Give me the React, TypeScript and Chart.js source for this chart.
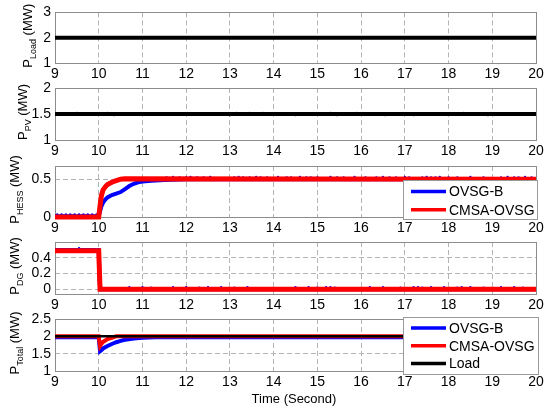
import React, { useEffect, useRef } from "react";
import { Chart, registerables } from "chart.js";

Chart.register(...registerables);

const FONT = "'Liberation Sans', Arial, Helvetica, sans-serif";

// ---- shared axis data ----
const xTicks = [9, 10, 11, 12, 13, 14, 15, 16, 17, 18, 19, 20];
const xLabel = "Time (Second)";

// ---- Panel 1: P_Load ----
const loadTime = [9, 20];
const loadPower = [2, 2];
const loadTicks = [1, 2, 3];

// ---- Panel 2: P_PV ----
const pvTime = [9, 20];
const pvPower = [1.5, 1.5];
const pvDotTime = [9.5, 10.2, 10.35, 13.0, 13.15, 13.45, 13.75, 14.5, 15.3, 15.45, 15.9, 16.55, 17.2, 18.35, 18.9, 19.95];
const pvDotPower = [1.515, 1.515, 1.485, 1.485, 1.515, 1.515, 1.515, 1.485, 1.515, 1.485, 1.515, 1.485, 1.485, 1.515, 1.485, 1.5];
const pvTicks = [1, 1.5, 2];

// ---- Panel 3: P_HESS ----
const hessBTime = [9, 9.99, 10.02, 10.06, 10.1, 10.15, 10.2, 10.3, 10.4, 10.5, 10.6, 10.7, 10.8, 10.9, 11.0, 11.2, 11.5, 12, 20];
const hessBPower = [0.01, 0.01, 0.05, 0.14, 0.19, 0.23, 0.26, 0.29, 0.31, 0.33, 0.37, 0.41, 0.44, 0.46, 0.47, 0.48, 0.49, 0.5, 0.5];
const hessBDotTime = [9.05, 9.15, 9.25, 9.35, 9.45, 9.55, 9.65, 9.75, 9.85, 9.95, 11.55, 11.7, 11.85, 12.0, 12.1, 12.25, 12.4, 12.55, 13.1, 13.2, 13.3, 13.45, 13.6, 13.7, 13.85, 14.1, 14.3, 14.4, 14.6, 14.75, 14.85, 15.0, 15.3, 15.45, 15.6, 15.85, 16.1, 16.35, 16.5, 16.65, 16.8, 17.0, 17.1, 17.4, 17.5, 17.6, 17.7, 17.8, 18.0, 18.2, 18.5, 18.8, 19.2, 19.35, 19.5, 19.6, 19.75, 19.9];
const hessBDotPower = [0.035, 0.035, 0.035, 0.035, 0.035, 0.035, 0.035, 0.035, 0.035, 0.035, 0.525, 0.53, 0.525, 0.525, 0.53, 0.525, 0.525, 0.53, 0.525, 0.53, 0.525, 0.525, 0.53, 0.525, 0.525, 0.53, 0.525, 0.525, 0.53, 0.525, 0.525, 0.525, 0.53, 0.525, 0.525, 0.53, 0.525, 0.525, 0.53, 0.525, 0.525, 0.53, 0.525, 0.525, 0.53, 0.525, 0.525, 0.53, 0.525, 0.525, 0.53, 0.525, 0.525, 0.53, 0.525, 0.525, 0.53, 0.525];
const hessCTime = [9, 10.0, 10.03, 10.06, 10.1, 10.15, 10.2, 10.3, 10.4, 10.5, 10.6, 20];
const hessCPower = [0, 0, 0.15, 0.28, 0.36, 0.4, 0.43, 0.46, 0.48, 0.5, 0.505, 0.5];
const hessTicks = [0, 0.5];

// ---- Panel 4: P_DG ----
const dgBTime = [9, 10.0, 10.02, 10.04, 20];
const dgBPower = [0.5, 0.5, 0.1, 0, 0];
const dgBDotTime = [9.55, 10.7, 11.0, 11.2, 11.7, 12.0, 12.3, 12.5, 12.8, 13.1, 13.4, 14.5, 14.8, 15.0, 15.2, 15.3, 15.4, 16.2, 16.5, 16.9, 17.2, 17.3, 17.4, 17.6, 17.9, 18.2, 18.3, 18.5, 18.8, 19.2, 19.5, 19.7];
const dgBDotPower = [0.52, 0.025, 0.025, 0.02, 0.025, 0.025, 0.02, 0.025, 0.025, 0.02, 0.025, 0.025, 0.025, 0.02, 0.025, 0.025, 0.02, 0.025, 0.025, 0.02, 0.025, 0.025, 0.02, 0.025, 0.025, 0.02, 0.025, 0.025, 0.02, 0.025, 0.025, 0.02];
const dgCTime = [9, 10.0, 10.03, 20];
const dgCPower = [0.49, 0.49, 0, 0];
const dgTicks = [0, 0.2, 0.4];

// ---- Panel 5: P_Total ----
const totalBTime = [9, 10.0, 10.03, 10.06, 10.1, 10.2, 10.3, 10.4, 10.5, 10.6, 10.8, 11.0, 11.3, 20];
const totalBPower = [1.97, 1.97, 1.57, 1.6, 1.65, 1.72, 1.78, 1.83, 1.87, 1.9, 1.94, 1.96, 1.97, 1.97];
const totalCTime = [9, 10.0, 10.03, 10.06, 10.1, 10.15, 10.2, 10.3, 10.4, 20];
const totalCPower = [2, 2, 1.72, 1.78, 1.84, 1.88, 1.92, 1.96, 2.0, 2.0];
const totalLoadTime = [9, 20];
const totalLoadPower = [2, 2];
const totalTicks = [1, 1.5, 2, 2.5];

const legendHess = ["OVSG-B", "CMSA-OVSG"];
const legendTotal = ["OVSG-B", "CMSA-OVSG", "Load"];

const BLUE = "#0000ff";
const RED = "#ff0000";
const BLACK = "#000000";

type Series = { t: number[]; v: number[]; color: string; width: number; dots?: boolean };
type Panel = {
  top: number;
  bottom: number;
  min: number;
  max: number;
  ticks: number[];
  sub: string;
  titleX: number;
  series: Series[];
  legend?: { x: number; y: number; w: number; h: number; first: number; step: number; items: { label: string; color: string }[] };
  xTitle?: boolean;
};

const panels: Panel[] = [
  {
    top: 12, bottom: 63, min: 1, max: 3, ticks: loadTicks, sub: "Load", titleX: 32,
    series: [{ t: loadTime, v: loadPower, color: BLACK, width: 4 }],
  },
  {
    top: 88, bottom: 140, min: 1, max: 2, ticks: pvTicks, sub: "PV", titleX: 27,
    series: [
      { t: pvTime, v: pvPower, color: BLACK, width: 4 },
      { t: pvDotTime, v: pvDotPower, color: BLACK, width: 1.5, dots: true },
    ],
  },
  {
    top: 166, bottom: 217, min: 0, max: 0.675, ticks: hessTicks, sub: "HESS", titleX: 19,
    series: [
      { t: hessBDotTime, v: hessBDotPower, color: BLUE, width: 1.2, dots: true },
      { t: hessBTime, v: hessBPower, color: BLUE, width: 4 },
      { t: hessCTime, v: hessCPower, color: RED, width: 5 },
    ],
    legend: {
      x: 403, y: 180, w: 134, h: 39, first: 11.5, step: 18.3,
      items: [
        { label: legendHess[0], color: BLUE },
        { label: legendHess[1], color: RED },
      ],
    },
  },
  {
    top: 242, bottom: 294, min: -0.06, max: 0.6, ticks: dgTicks, sub: "DG", titleX: 19,
    series: [
      { t: dgBDotTime, v: dgBDotPower, color: BLUE, width: 1.2, dots: true },
      { t: dgBTime, v: dgBPower, color: BLUE, width: 4 },
      { t: dgCTime, v: dgCPower, color: RED, width: 5 },
    ],
  },
  {
    top: 319, bottom: 371, min: 1, max: 2.5, ticks: totalTicks, sub: "Total", titleX: 19,
    series: [
      { t: totalBTime, v: totalBPower, color: BLUE, width: 4 },
      { t: totalCTime, v: totalCPower, color: RED, width: 4 },
      { t: totalLoadTime, v: totalLoadPower, color: BLACK, width: 2.5 },
    ],
    legend: {
      x: 403, y: 317, w: 135, h: 57, first: 11, step: 17.7,
      items: [
        { label: legendTotal[0], color: BLUE },
        { label: legendTotal[1], color: RED },
        { label: legendTotal[2], color: BLACK },
      ],
    },
    xTitle: true,
  },
];

const boxPlugin = {
  id: "axesBox",
  beforeDatasetsDraw(chart: any) {
    const { ctx, chartArea: ca } = chart;
    ctx.save();
    ctx.strokeStyle = "#8c8c8c";
    ctx.lineWidth = 1;
    ctx.strokeRect(Math.round(ca.left) + 0.5, Math.round(ca.top) + 0.5, Math.round(ca.right - ca.left), Math.round(ca.bottom - ca.top));
    ctx.restore();
  },
};

const yTitlePlugin = {
  id: "yTitle",
  afterDraw(chart: any, _a: any, o: any) {
    if (!o || !o.sub) return;
    const { ctx, chartArea: ca } = chart;
    const cy = (ca.top + ca.bottom) / 2 - 2;
    const mainFont = `13px ${FONT}`;
    const subFont = `9px ${FONT}`;
    ctx.save();
    ctx.fillStyle = "#000";
    ctx.font = mainFont;
    const wP = ctx.measureText("P").width;
    const wU = ctx.measureText(" (MW)").width;
    ctx.font = subFont;
    const wS = ctx.measureText(o.sub).width;
    const total = wP + wS + wU;
    ctx.translate(o.x, cy);
    ctx.rotate(-Math.PI / 2);
    ctx.textAlign = "left";
    ctx.textBaseline = "alphabetic";
    let x0 = -total / 2;
    ctx.font = mainFont;
    ctx.fillText("P", x0, 0);
    x0 += wP;
    ctx.font = subFont;
    ctx.fillText(o.sub, x0, 3.5);
    x0 += wS;
    ctx.font = mainFont;
    ctx.fillText(" (MW)", x0, 0);
    ctx.restore();
  },
};

const legendPlugin = {
  id: "boxLegend",
  afterDraw(chart: any, _a: any, o: any) {
    if (!o || !o.items) return;
    const ctx = chart.ctx;
    ctx.save();
    ctx.fillStyle = "#fff";
    ctx.fillRect(o.x, o.y, o.w, o.h);
    ctx.strokeStyle = "#9a9a9a";
    ctx.lineWidth = 1;
    ctx.strokeRect(o.x + 0.5, o.y + 0.5, o.w, o.h);
    o.items.forEach((it: any, i: number) => {
      const cy = o.y + o.first + i * o.step;
      ctx.strokeStyle = it.color;
      ctx.lineWidth = 3.5;
      ctx.beginPath();
      ctx.moveTo(o.x + 8, cy);
      ctx.lineTo(o.x + 43, cy);
      ctx.stroke();
      ctx.fillStyle = "#000";
      ctx.font = `14px ${FONT}`;
      ctx.textAlign = "left";
      ctx.textBaseline = "middle";
      ctx.fillText(it.label, o.x + 46, cy + 1);
    });
    ctx.restore();
  },
};

const xTitlePlugin = {
  id: "xTitle",
  afterDraw(chart: any, _a: any, o: any) {
    if (!o || !o.text) return;
    const ctx = chart.ctx;
    ctx.save();
    ctx.fillStyle = "#000";
    ctx.font = `13px ${FONT}`;
    ctx.textAlign = "center";
    ctx.textBaseline = "middle";
    ctx.fillText(o.text, 294, 399);
    ctx.restore();
  },
};

function fmt(v: number) {
  return String(Math.round(v * 1000) / 1000);
}

export default function App() {
  const refs = useRef<(HTMLCanvasElement | null)[]>([]);

  useEffect(() => {
    const charts: Chart[] = [];
    panels.forEach((p, idx) => {
      const canvas = refs.current[idx];
      if (!canvas) return;
      const datasets = p.series.map((s, i) => ({
        data: s.t.map((t, k) => ({ x: t, y: s.v[k] })),
        borderColor: s.color,
        backgroundColor: s.color,
        borderWidth: s.dots ? 0 : s.width,
        showLine: !s.dots,
        pointRadius: s.dots ? s.width : 0,
        pointBorderWidth: 0,
        tension: 0,
        fill: false,
        clip: false as any,
        order: -i,
      }));
      const gridCfg = { color: "#b4b4b4", lineWidth: 1, drawTicks: false };
      const borderCfg = { display: false, dash: [5, 3] };
      const chart = new Chart(canvas, {
        type: "line",
        data: { datasets },
        plugins: [boxPlugin, yTitlePlugin, legendPlugin, xTitlePlugin],
        options: {
          responsive: false,
          maintainAspectRatio: false,
          animation: false,
          events: [],
          layout: { padding: { top: p.top, bottom: 410 - p.bottom - 22, left: 0, right: 14 } },
          plugins: {
            legend: { display: false },
            tooltip: { enabled: false },
            yTitle: { sub: p.sub, x: p.titleX },
            boxLegend: p.legend ? p.legend : {},
            xTitle: p.xTitle ? { text: xLabel } : {},
          } as any,
          scales: {
            x: {
              type: "linear",
              min: 9,
              max: 20,
              afterBuildTicks: (s: any) => {
                s.ticks = xTicks.map((v) => ({ value: v }));
              },
              afterFit: (s: any) => {
                s.height = 22;
              },
              grid: gridCfg,
              border: borderCfg,
              ticks: {
                color: "#000",
                font: { family: FONT, size: 14 },
                padding: 3,
                maxRotation: 0,
                autoSkip: false,
                callback: (v: any) => fmt(Number(v)),
              },
            },
            y: {
              type: "linear",
              min: p.min,
              max: p.max,
              afterBuildTicks: (s: any) => {
                s.ticks = p.ticks.map((v) => ({ value: v }));
              },
              afterFit: (s: any) => {
                s.width = 55;
              },
              grid: gridCfg,
              border: borderCfg,
              ticks: {
                color: "#000",
                font: { family: FONT, size: 14 },
                padding: 4,
                autoSkip: false,
                callback: (v: any) => fmt(Number(v)),
              },
            },
          },
        } as any,
      });
      charts.push(chart);
    });
    return () => {
      charts.forEach((c) => c.destroy());
    };
  }, []);

  return (
    <div style={{ position: "absolute", left: 0, top: 0, width: 550, height: 410, background: "#fff" }}>
      {panels.map((_, i) => (
        <canvas
          key={i}
          ref={(el) => {
            refs.current[i] = el;
          }}
          width={550}
          height={410}
          style={{ position: "absolute", left: 0, top: 0, width: 550, height: 410 }}
        />
      ))}
    </div>
  );
}
